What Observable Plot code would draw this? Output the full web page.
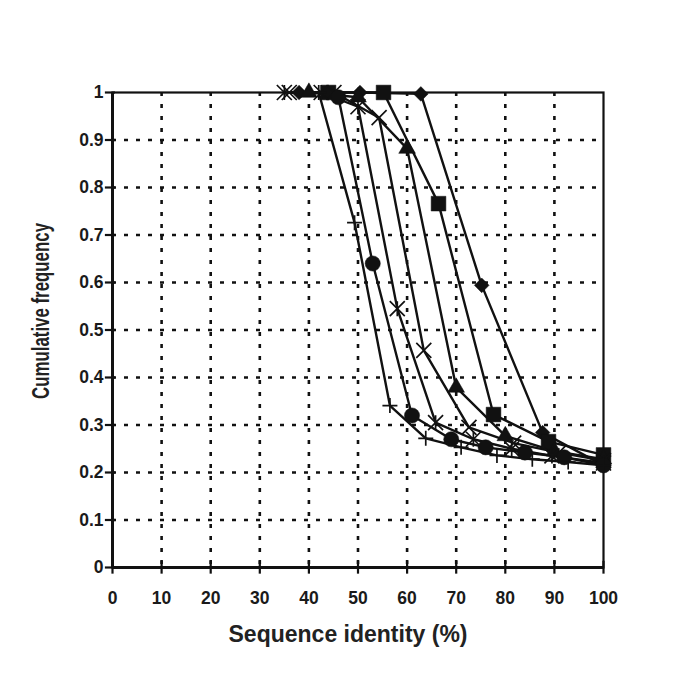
<!DOCTYPE html>
<html><head><meta charset="utf-8">
<script src="https://cdn.jsdelivr.net/npm/d3@7"></script>
<script src="https://cdn.jsdelivr.net/npm/@observablehq/plot@0.6"></script>
<style>body{margin:0;background:#fff}</style>
</head><body><div id="chart"></div>
<script>
// Tick values and labels
const xTicks = [0, 10, 20, 30, 40, 50, 60, 70, 80, 90, 100];
const yTicks = [0, 0.1, 0.2, 0.3, 0.4, 0.5, 0.6, 0.7, 0.8, 0.9, 1];
const yTickLabels = ["0", "0.1", "0.2", "0.3", "0.4", "0.5", "0.6", "0.7", "0.8", "0.9", "1"];
const xTitle = "Sequence identity (%)";
const yTitle = "Cumulative frequency";

// Series
const diamondX = [38, 50.4, 62.8, 75.2, 87.6, 100];
const diamondY = [1, 1, 0.997, 0.594, 0.284, 0.215];
const squareX = [44, 55.2, 66.4, 77.6, 88.8, 100];
const squareY = [1, 1, 0.766, 0.322, 0.265, 0.237];
const triangleX = [40, 50, 60, 70, 80, 90, 100];
const triangleY = [1, 0.99, 0.882, 0.379, 0.277, 0.245, 0.228];
const timesX = [36, 45.1, 54.3, 63.4, 72.6, 81.7, 90.9, 100];
const timesY = [1, 1, 0.947, 0.457, 0.295, 0.262, 0.242, 0.225];
const starX = [35, 42.5, 50, 58, 65.8, 73.5, 81.3, 89.5, 100];
const starY = [1, 1, 0.97, 0.545, 0.305, 0.27, 0.25, 0.235, 0.22];
const circleX = [46, 53, 61, 69, 76, 84, 92, 100];
const circleY = [0.99, 0.64, 0.32, 0.27, 0.253, 0.242, 0.232, 0.215];
const plusX = [42, 49.3, 56.5, 63.8, 71, 78.3, 85.5, 92.8, 100];
const plusY = [1, 0.726, 0.341, 0.272, 0.253, 0.236, 0.228, 0.222, 0.215];

const toRows = (xs, ys) => xs.map((x, i) => ({x, y: ys[i]}));

// Stroke marker symbols (Excel style)
const timesSym = {draw(ctx, size) {
  const r = Math.sqrt(size / Math.PI);
  ctx.moveTo(-r, -r); ctx.lineTo(r, r); ctx.moveTo(-r, r); ctx.lineTo(r, -r);
}};
const starSym = {draw(ctx, size) {
  const r = Math.sqrt(size / Math.PI);
  ctx.moveTo(-r, -r); ctx.lineTo(r, r); ctx.moveTo(-r, r); ctx.lineTo(r, -r);
  ctx.moveTo(0, -r); ctx.lineTo(0, r);
}};
const plusSym = {draw(ctx, size) {
  const r = Math.sqrt(size / Math.PI);
  ctx.moveTo(-r, 0); ctx.lineTo(r, 0); ctx.moveTo(0, -r); ctx.lineTo(0, r);
}};

const series = [
  {rows: toRows(diamondX, diamondY), symbol: "diamond2", r: 6.6, filled: true},
  {rows: toRows(squareX, squareY), symbol: "square", r: 8.3, filled: true},
  {rows: toRows(triangleX, triangleY), symbol: "triangle", r: 6.2, filled: true},
  {rows: toRows(timesX, timesY), symbol: timesSym, r: 7.5, filled: false},
  {rows: toRows(starX, starY), symbol: starSym, r: 7.5, filled: false},
  {rows: toRows(circleX, circleY), symbol: "circle", r: 7.6, filled: true},
  {rows: toRows(plusX, plusY), symbol: plusSym, r: 7.5, filled: false}
];

const gridX = xTicks.filter(d => d > 0 && d < 100);
const gridY = yTicks.filter(d => d > 0 && d < 1);
const ink = "#111";

const marks = [
  Plot.ruleX(gridX, {x: d => d, stroke: ink, strokeWidth: 2.6, strokeDasharray: "4,8"}),
  Plot.ruleY(gridY, {y: d => d, stroke: ink, strokeWidth: 2.6, strokeDasharray: "4,8"}),
  Plot.frame({stroke: ink, strokeWidth: 2.2}),
  Plot.ruleX([0], {stroke: ink, strokeWidth: 3}),
  Plot.ruleY([0], {stroke: ink, strokeWidth: 3}),
  Plot.ruleX(xTicks, {x: d => d, y1: -0.014, y2: 0.013, stroke: ink, strokeWidth: 2.2}),
  Plot.ruleY(yTicks, {y: d => d, x1: -1.45, x2: 0.6, stroke: ink, strokeWidth: 2.2}),
  Plot.text(xTicks, {x: d => d, frameAnchor: "bottom", dy: 31, text: d => String(d),
    fontSize: 17.5, fontWeight: "bold", lineAnchor: "middle", fill: "#1a1a1a"}),
  Plot.text(yTicks, {y: d => d, frameAnchor: "left", dx: -9, text: (d, i) => yTickLabels[i],
    fontSize: 17.5, fontWeight: "bold", textAnchor: "end", lineAnchor: "middle", fill: "#1a1a1a"}),
  Plot.text([xTitle], {frameAnchor: "bottom", dx: -10, dy: 67, text: d => d, fontSize: 23,
    fontWeight: "bold", textAnchor: "middle", lineAnchor: "middle", fill: "#222"}),
  Plot.text([yTitle], {frameAnchor: "left", dx: -71, dy: -19, rotate: -90, text: d => d, fontSize: 23.5,
    fontWeight: "bold", textAnchor: "middle", lineAnchor: "middle", fill: "#222",
    fontFamily: "Liberation Sans Narrow, Arial Narrow, sans-serif"})
];

for (const s of series) {
  marks.push(Plot.line(s.rows, {x: "x", y: "y", stroke: ink, strokeWidth: 2.4}));
}
for (const s of series) {
  marks.push(Plot.dot(s.rows, s.filled
    ? {x: "x", y: "y", symbol: s.symbol, r: s.r, fill: ink, stroke: ink, strokeWidth: 0.5}
    : {x: "x", y: "y", symbol: s.symbol, r: s.r, fill: "none", stroke: ink, strokeWidth: 1.7}));
}

const chart = Plot.plot({
  width: 685,
  height: 685,
  marginLeft: 112,
  marginRight: 82,
  marginTop: 92,
  marginBottom: 118,
  x: {domain: [0, 100], axis: null},
  y: {domain: [0, 1], axis: null},
  style: {fontFamily: "Liberation Sans, Arial, sans-serif", background: "#fff", overflow: "visible"},
  marks
});
// condense the rotated y title to the width of the original's narrow face
d3.select(chart).selectAll("text").filter(function() { return this.textContent === yTitle; })
  .attr("textLength", 176).attr("lengthAdjust", "spacingAndGlyphs");
document.getElementById("chart").append(chart);
</script></body></html>
